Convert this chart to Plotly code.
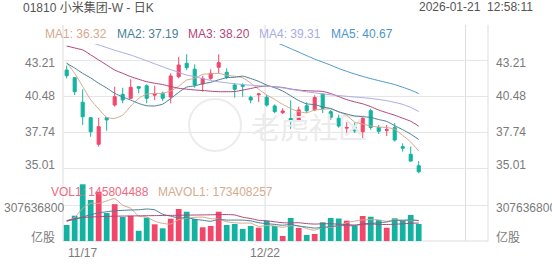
import plotly.graph_objects as go

# ---------------- data ----------------
idx = list(range(45))
tick_dates = ["11/17", "12/22"]
tick_date_pos = [0, 24.8]

open_ = [42.45, 41.87, 40.01, 38.84, 36.83, 38.84, 39.80, 40.61, 40.31, 41.19,
         41.26, 40.55, 40.69, 40.41, 41.95, 42.96, 42.51, 41.39, 41.82, 42.66,
         42.28, 41.32, 41.32, 40.39, 40.58, 40.39, 39.73, 39.22, 38.78, 38.59,
         39.75, 39.43, 40.64, 39.30, 38.80, 38.05, 38.14, 37.78, 39.37, 38.10,
         37.88, 38.09, 36.65, 36.07, 35.21]
high = [42.78, 41.90, 40.99, 38.90, 38.84, 38.86, 41.19, 41.11, 41.75, 41.20,
        41.37, 41.26, 40.81, 42.20, 43.45, 43.64, 42.88, 42.02, 42.51, 43.64,
        42.58, 41.45, 41.45, 40.51, 40.69, 40.56, 39.85, 39.55, 40.15, 39.68,
        40.01, 40.54, 40.69, 39.43, 39.07, 38.52, 38.48, 38.97, 39.52, 38.29,
        38.29, 38.42, 36.90, 36.65, 35.56]
low = [41.82, 40.56, 38.29, 37.40, 36.65, 37.86, 39.68, 39.93, 40.26, 40.69,
       39.93, 40.18, 40.11, 39.93, 41.82, 42.45, 41.11, 40.81, 41.70, 42.20,
       41.77, 40.36, 40.43, 39.93, 40.02, 39.68, 39.18, 39.12, 38.00, 38.51,
       39.20, 39.37, 39.20, 38.67, 38.08, 37.53, 37.68, 37.27, 37.93, 37.61,
       37.46, 37.03, 36.27, 35.51, 34.63]
close = [42.02, 40.81, 38.92, 37.78, 38.16, 38.67, 40.43, 40.18, 41.14, 41.07,
         40.31, 40.66, 40.31, 42.00, 42.83, 42.63, 41.32, 41.82, 42.20, 43.01,
         41.90, 40.99, 41.22, 40.18, 40.64, 39.80, 39.30, 39.35, 38.62, 39.43,
         39.37, 40.37, 39.54, 38.87, 38.21, 38.10, 37.84, 38.80, 38.10, 37.81,
         37.93, 37.15, 36.53, 35.56, 34.75]

ma1 = [43.00, 42.20, 41.20, 40.20, 39.50, 38.87, 38.79, 39.04, 39.72, 40.30,
       40.63, 40.67, 40.70, 40.87, 41.22, 41.69, 41.82, 42.12, 42.16, 42.20,
       42.05, 41.98, 41.86, 41.46, 40.99, 40.57, 40.23, 39.85, 39.54, 39.30,
       39.21, 39.43, 39.47, 39.52, 39.27, 39.02, 38.51, 38.36, 38.21, 38.13,
       38.10, 37.96, 37.50, 37.00, 36.32]
ma2 = [42.96, 42.60, 42.20, 41.85, 41.45, 41.09, 40.69, 40.41, 40.18, 39.92,
       39.75, 39.73, 39.87, 40.29, 40.76, 41.16, 41.25, 41.41, 41.52, 41.71,
       41.87, 41.90, 41.99, 41.81, 41.59, 41.31, 41.11, 40.86, 40.50, 40.14,
       39.89, 39.83, 39.66, 39.53, 39.29, 39.12, 38.97, 38.92, 38.86, 38.70,
       38.56, 38.24, 37.93, 37.60, 37.19]
ma3 = [44.27, 44.12, 43.97, 43.60, 43.21, 42.83, 42.45, 42.20, 41.95, 41.75,
       41.57, 41.45, 41.35, 41.20, 41.07, 41.00, 40.94, 40.90, 40.85, 40.81,
       40.81, 40.82, 40.93, 41.05, 41.18, 41.23, 41.18, 41.13, 41.01, 40.93,
       40.88, 40.86, 40.83, 40.67, 40.44, 40.21, 40.04, 39.89, 39.68, 39.42,
       39.22, 39.03, 38.80, 38.57, 38.20]
ma4 = [45.30, 45.00, 44.80, 44.55, 44.35, 44.15, 43.95, 43.77, 43.59, 43.37,
       43.15, 42.92, 42.70, 42.48, 42.28, 42.07, 41.95, 41.80, 41.67, 41.56,
       41.48, 41.41, 41.35, 41.30, 41.26, 41.22, 41.18, 41.10, 41.00, 40.90,
       40.80, 40.72, 40.64, 40.57, 40.52, 40.46, 40.41, 40.36, 40.30, 40.22,
       40.13, 40.00, 39.85, 39.62, 39.31]
ma5 = [47.60, 47.45, 47.30, 47.15, 47.00, 46.85, 46.70, 46.55, 46.40, 46.25,
       46.10, 45.97, 45.85, 45.72, 45.60, 45.50, 45.40, 45.30, 45.20, 45.10,
       45.02, 44.95, 44.88, 44.80, 44.72, 44.64, 44.56, 44.34, 44.07, 43.81,
       43.54, 43.28, 43.05, 42.82, 42.57, 42.35, 42.15, 41.97, 41.80, 41.65,
       41.50, 41.35, 41.15, 40.93, 40.67]

# volume in millions of shares
volume = [136.7, 216.2, 484.5, 350.3, 421.3, 239.3, 314.5, 205.1, 215.3, 87.2,
          199.1, 142.7, 108.5, 190.6, 273.4, 250.4, 188.0, 117.1, 128.2, 250.4,
          136.7, 145.3, 102.5, 128.2, 113.6, 170.9, 128.2, 42.7, 196.5, 111.1,
          51.3, 59.8, 159.8, 196.5, 192.3, 173.5, 128.2, 213.6, 207.6, 179.4,
          113.6, 194.0, 179.4, 222.2, 145.804488]
mavol1 = [165.0, 202.0, 279.0, 322.0, 321.8, 342.3, 362.0, 306.1, 279.1, 212.3,
          204.2, 169.9, 150.6, 145.6, 182.9, 193.1, 202.2, 203.9, 191.4, 186.8,
          164.1, 155.5, 152.6, 152.6, 125.3, 132.1, 128.7, 116.7, 130.4, 129.9,
          106.0, 92.3, 115.7, 115.7, 131.9, 156.4, 170.1, 180.8, 183.0, 180.5,
          168.5, 181.6, 174.8, 177.7, 173.408257]
mavol2 = [171.0, 185.0, 205.0, 225.0, 240.0, 250.0, 258.0, 262.0, 265.0, 267.0,
          273.3, 265.9, 228.3, 212.4, 197.6, 198.7, 186.0, 177.2, 168.5, 184.8,
          178.6, 178.9, 178.3, 172.0, 156.0, 148.1, 142.1, 134.7, 141.5, 127.6,
          119.0, 110.5, 116.2, 123.0, 130.9, 131.2, 131.2, 148.3, 149.4, 156.2,
          162.4, 175.9, 177.8, 180.4, 175.7]
mavol3 = [175.0, 190.0, 200.0, 205.0, 208.0, 210.0, 212.0, 213.0, 214.0, 215.0,
          216.0, 217.0, 218.0, 219.0, 220.0, 221.0, 222.0, 223.0, 224.0, 225.9,
          225.9, 222.4, 203.3, 192.2, 176.8, 173.4, 164.1, 156.0, 155.0, 156.2,
          148.8, 144.7, 147.2, 147.5, 143.5, 139.6, 136.6, 141.5, 145.4, 141.9,
          140.7, 143.2, 147.0, 151.7, 153.3]

price_ticks = [35.01, 37.74, 40.48, 43.21]
price_tick_labels = ["35.01", "37.74", "40.48", "43.21"]
vol_tick = [307.6368]
vol_tick_label = ["307636800"]

title_text = "01810 小米集团-W - 日K"
time_text = "2026-01-21\u00a0\u00a012:58:11"
ma_names = ["MA1", "MA2", "MA3", "MA4", "MA5"]
ma_last = ["36.32", "37.19", "38.20", "39.31", "40.67"]

# ---------------- style ----------------
W, H = 552, 265
ML, MR, MT, MB = 63, 64, 25, 24
PW, PH = W - ML - MR, H - MT - MB
RED = "#f2476b"
GREEN = "#14b3a1"
C_MA = ["#d6a98b", "#4a7f99", "#b3457a", "#a9abe3", "#4c97c9"]
GRID = "#e6e6e6"
BORDER = "#dddddd"
LBL = "#7a7a7a"
FONT = "Liberation Sans, Arial, Noto Sans CJK SC"


def px(x):
    return (x - ML) / PW


def py(y):
    return (H - MB - y) / PH


fig = go.Figure()

# watermark (drawn first so it sits beneath the marks)
fig.add_trace(go.Scatter(
    x=[30.3], y=[37.76], mode="text", text=["老虎社区"],
    textfont=dict(size=29, color="#ebebeb", family="Noto Sans CJK SC"),
    hoverinfo="skip", showlegend=False, cliponaxis=False))

fig.add_trace(go.Candlestick(
    x=idx, open=open_, high=high, low=low, close=close,
    increasing=dict(line=dict(color=RED, width=1), fillcolor=RED),
    decreasing=dict(line=dict(color=GREEN, width=1), fillcolor=GREEN),
    whiskerwidth=0, showlegend=False, xaxis="x", yaxis="y"))

for ser, col in zip([ma1, ma2, ma3, ma4, ma5], C_MA):
    fig.add_trace(go.Scatter(x=idx, y=ser, mode="lines",
                             line=dict(color=col, width=1, shape="spline", smoothing=0.6),
                             showlegend=False, hoverinfo="skip", xaxis="x", yaxis="y"))

vcolors = [RED if c >= o else GREEN for o, c in zip(open_, close)]
fig.add_trace(go.Bar(x=idx, y=volume, marker=dict(color=vcolors, line=dict(width=0)),
                     width=0.72, showlegend=False, xaxis="x", yaxis="y2"))
for ser, col in zip([mavol1, mavol2, mavol3], [C_MA[0], C_MA[1], C_MA[2]]):
    fig.add_trace(go.Scatter(x=idx, y=ser, mode="lines",
                             line=dict(color=col, width=1, shape="spline", smoothing=0.6),
                             showlegend=False, hoverinfo="skip", xaxis="x", yaxis="y2"))

y_top, y_bot = 44, 180
p_slope = (43.21 - 35.01) / (168.3 - 60.0)
p_hi = 43.21 + (60.0 - y_top) * p_slope
p_lo = 43.21 - (y_bot - 60.0) * p_slope
vol_top_px = 182
v_per_px = 307.6368 / 36.0
v_hi = (H - MB - vol_top_px) * v_per_px

fig.update_layout(
    width=W, height=H, margin=dict(l=ML, r=MR, t=MT, b=MB),
    paper_bgcolor="white", plot_bgcolor="white",
    font=dict(family=FONT, size=12, color=LBL),
    boxgap=0.45, bargap=0.1,
    xaxis=dict(range=[-0.46, 52.66], showgrid=False, zeroline=False,
               showticklabels=False, rangeslider=dict(visible=False), anchor="y2",
               fixedrange=True),
    yaxis=dict(domain=[py(y_bot), py(y_top)], range=[p_lo, p_hi],
               tickvals=price_ticks, showticklabels=False, showgrid=True,
               gridcolor=GRID, gridwidth=1, zeroline=False, fixedrange=True),
    yaxis2=dict(domain=[0, py(vol_top_px)], range=[0, v_hi],
                tickvals=vol_tick, showticklabels=False, showgrid=True,
                gridcolor=GRID, gridwidth=1, zeroline=False, fixedrange=True),
    showlegend=False,
)

shapes = []
for xv in [24.8, 49.85]:
    shapes.append(dict(type="line", xref="x", yref="paper", x0=xv, x1=xv, y0=0, y1=1,
                       line=dict(color=BORDER, width=1), layer="below"))
for xv in [0, 1]:
    shapes.append(dict(type="line", xref="paper", yref="paper", x0=xv, x1=xv, y0=0, y1=1,
                       line=dict(color=BORDER, width=1), layer="below"))
shapes.append(dict(type="line", xref="paper", yref="paper", x0=0, x1=1, y0=0, y1=0,
                   line=dict(color=BORDER, width=1), layer="below"))
# watermark logo ring
shapes.append(dict(type="circle", xref="paper", yref="paper",
                   x0=px(189), x1=px(241), y0=py(151), y1=py(99),
                   line=dict(color="#ececec", width=2), layer="below"))
fig.update_layout(shapes=shapes)

ann = []
# header
ann.append(dict(text=title_text, xref="paper", yref="paper", x=px(20.5), y=py(7.5),
                xanchor="left", yanchor="middle", showarrow=False,
                font=dict(size=12, color="#555555", family=FONT)))
ann.append(dict(text=time_text, xref="paper", yref="paper", x=px(535), y=py(7.5),
                xanchor="right", yanchor="middle", showarrow=False,
                font=dict(size=12, color="#555555", family=FONT)))
# MA legend
for name, val, col, xp in zip(ma_names, ma_last, C_MA, [42.5, 115, 185.5, 256.5, 328.5]):
    ann.append(dict(text=f"{name}: {val}", xref="paper", yref="paper", x=px(xp), y=py(34),
                    xanchor="left", yanchor="middle", showarrow=False,
                    font=dict(size=12, color=col, family=FONT)))
# price axis labels
shifts = {"43.21": -3, "35.01": 3}
for v, t in zip(price_ticks, price_tick_labels):
    ys = shifts.get(t, 0)
    ann.append(dict(text=t, xref="paper", yref="y", x=0, y=v, xanchor="right",
                    yanchor="middle", xshift=-6, yshift=ys, showarrow=False))
    ann.append(dict(text=t, xref="paper", yref="y", x=1, y=v, xanchor="left",
                    yanchor="middle", xshift=6, yshift=ys, showarrow=False))
# volume axis labels
for v, t in zip(vol_tick, vol_tick_label):
    ann.append(dict(text=t, xref="paper", yref="y2", x=0, y=v, xanchor="right",
                    yanchor="middle", xshift=3, yshift=-3, showarrow=False))
    ann.append(dict(text=t, xref="paper", yref="y2", x=1, y=v, xanchor="left",
                    yanchor="middle", xshift=6, yshift=-3, showarrow=False))
for xv, xa, xs in [(0, "right", -6), (1, "left", 6)]:
    ann.append(dict(text="亿股", xref="paper", yref="y2", x=xv, y=0, xanchor=xa,
                    yanchor="middle", xshift=xs, yshift=5, showarrow=False,
                    font=dict(family="Noto Sans CJK SC", size=12, color=LBL)))
# date labels
ann.append(dict(text=tick_dates[0], xref="x", yref="paper", x=tick_date_pos[0], y=0,
                xanchor="left", yanchor="top", xshift=-1, yshift=-3, showarrow=False))
ann.append(dict(text=tick_dates[1], xref="x", yref="paper", x=tick_date_pos[1], y=0,
                xanchor="center", yanchor="top", yshift=-3, showarrow=False))
# volume legend
ann.append(dict(text="VOL1: 145804488", xref="paper", yref="paper", x=px(49), y=py(192),
                xanchor="left", yanchor="middle", showarrow=False,
                font=dict(size=12, color="#f0687f", family=FONT)))
ann.append(dict(text="MAVOL1: 173408257", xref="paper", yref="paper", x=px(156), y=py(192),
                xanchor="left", yanchor="middle", showarrow=False,
                font=dict(size=12, color="#d6ab8e", family=FONT)))
fig.update_layout(annotations=ann)

fig.write_html("out.html", config={"displayModeBar": False})
